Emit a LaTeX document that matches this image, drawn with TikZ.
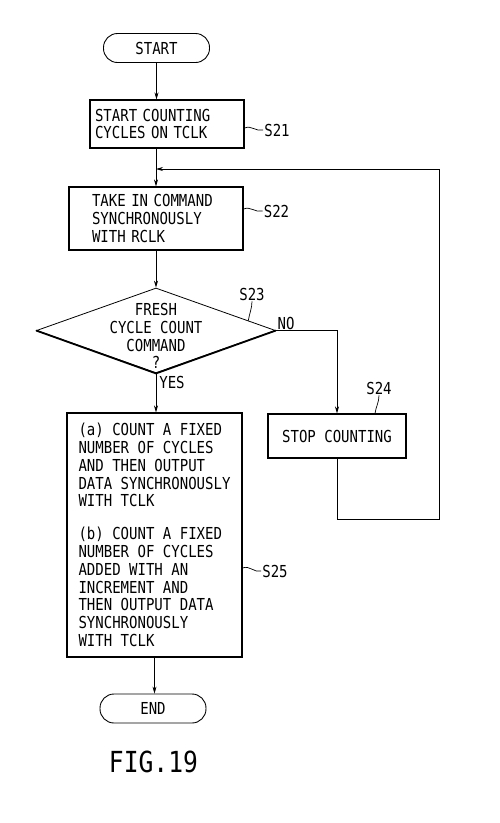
\documentclass[tikz,border=0pt]{standalone}
\usepackage{fontspec}
\newfontfamily\pf[FakeStretch=0.85]{DejaVu Sans Mono}
\newcommand\pff{\pf\fontsize{16.5}{17.8}\selectfont}
\usetikzlibrary{arrows.meta,shapes.geometric}
\begin{document}
\begin{tikzpicture}[x=1pt,y=-1pt,
  every node/.style={font=\pff},
  box/.style={draw,line width=1.2pt,inner sep=0pt},
  term/.style={draw,line width=0.9pt,rounded corners=14pt,minimum width=106pt,minimum height=29pt,inner sep=0pt},
  conn/.style={line width=0.7pt},
  arr/.style={conn,-{Stealth[length=7pt,width=4pt]}},
  lbl/.style={inner sep=1pt}]
\useasboundingbox (0,0) rectangle (500,823);
\fill[white] (0,0) rectangle (500,823);

% nodes
\node[term] (start) at (156.5,48) {START};
\node[box, minimum width=154pt, minimum height=48pt, text width=144pt, align=left] (b1) at (167,124) {START COUNTING\\CYCLES ON TCLK};
\node[box, minimum width=174pt, minimum height=63pt, text width=128pt, align=left] (b2) at (156,218.5) {TAKE IN COMMAND\\SYNCHRONOUSLY\\WITH RCLK};
\node[draw, diamond, minimum width=239pt, minimum height=85pt, inner sep=0pt, line width=0.8pt] (d) at (156,330.5) {};
\draw[line width=1.8pt, line join=miter] (d.west) -- (d.south) -- (d.east);
\node[align=center] (dt) at (156,336) {FRESH\\CYCLE COUNT\\COMMAND\\?};
\node[box, minimum width=138pt, minimum height=44pt] (s24) at (337,436) {STOP COUNTING};
\node[box, minimum width=175pt, minimum height=244pt, align=left] (s25) at (154.5,535) {(a) COUNT A FIXED\\NUMBER OF CYCLES\\AND THEN OUTPUT\\DATA SYNCHRONOUSLY\\WITH TCLK\\[15pt](b) COUNT A FIXED\\NUMBER OF CYCLES\\ADDED WITH AN\\INCREMENT AND\\THEN OUTPUT DATA\\SYNCHRONOUSLY\\WITH TCLK};
\node[term] (end) at (153,708.5) {END};
\node[font=\pf\fontsize{29}{30}\selectfont] (fig) at (153.5,762) {FIG.19};

% labels
\node[lbl] (l21) at (277,130) {S21};
\node[lbl] (l22) at (276.5,211) {S22};
\node[lbl] (l23) at (252,294) {S23};
\node[lbl] (l24) at (379,388) {S24};
\node[lbl] (l25) at (275,571) {S25};
\node[lbl] (no) at (286,323) {NO};
\node[lbl] (yes) at (172,382) {YES};

% leaders
\path (d.north) -- (d.east) coordinate[pos=0.77] (d23);
\draw[conn] ([yshift=-4pt]b1.east) .. controls +(7,-3) and +(-7,2) .. (l21.west);
\draw[conn] ([yshift=9.5pt]b2.east) .. controls +(7,-3) and +(-7,2) .. (l22.west);
\draw[conn] (l23.south) .. controls +(0,7) and +(1,-7) .. (d23);
\draw[conn] (l24.south) .. controls +(0,7) and +(1,-7) .. ([xshift=38pt]s24.north);
\draw[conn] ([yshift=-33pt]s25.east) .. controls +(7,-3) and +(-7,2) .. (l25.west);

% connectors
\draw[arr] (start.south) -- (start.south|-b1.north);
\draw[arr] (b2.north|-b1.south) -- (b2.north);
\draw[arr] (b2.south) -- (d.north);
\draw[arr] (d.south) -- (d.south|-s25.north);
\draw[arr] (d.east) -| (s24.north);
\coordinate (c2) at (439,519);
\coordinate (m) at (156,169);
\draw[arr] (s24.south) |- (c2) |- (m);
\draw[arr] (s25.south) -- (s25.south|-end.north);
\end{tikzpicture}
\end{document}
